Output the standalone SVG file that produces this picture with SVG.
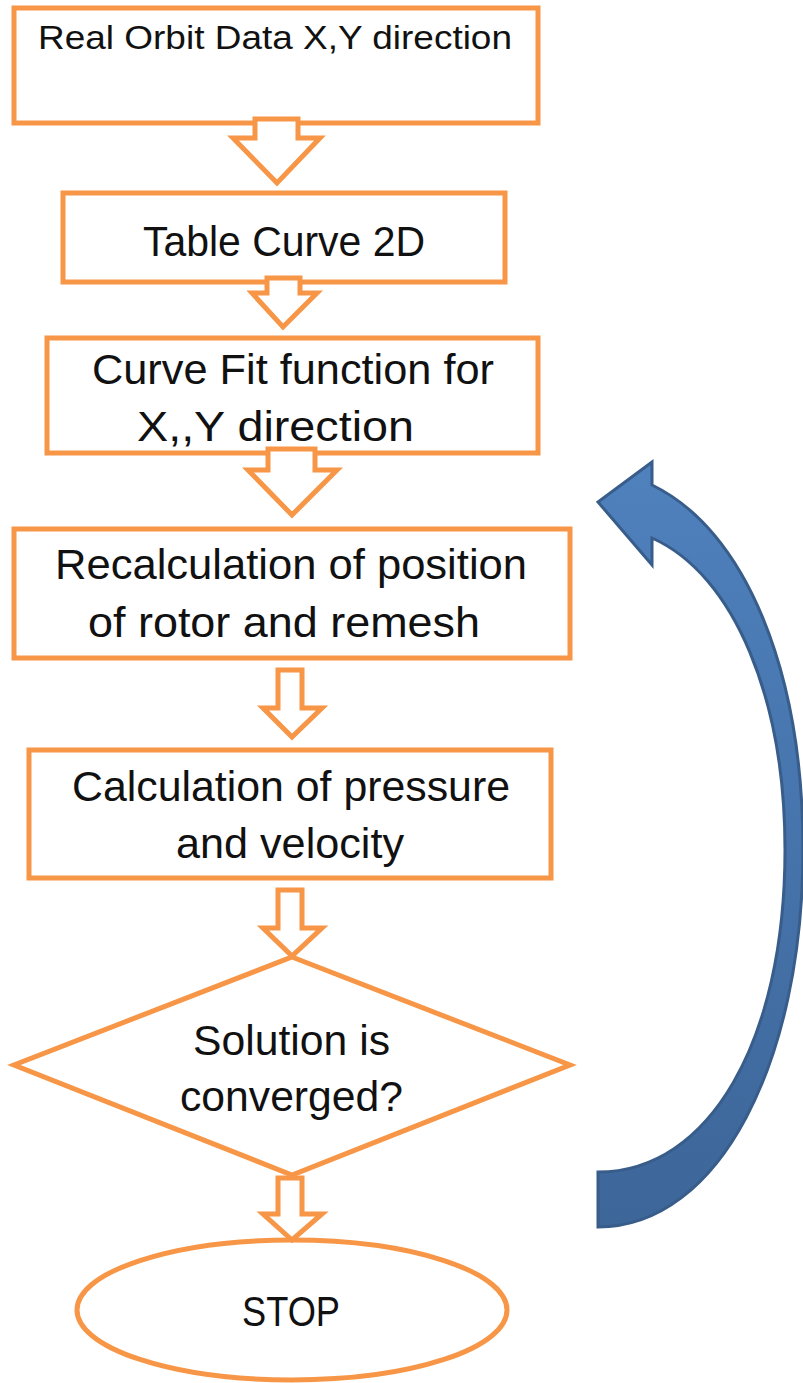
<svg xmlns="http://www.w3.org/2000/svg" width="803" height="1383" viewBox="0 0 803 1383">
<defs>
<linearGradient id="blueGrad" x1="0" y1="0" x2="0" y2="1">
<stop offset="0" stop-color="#4F81BD"/>
<stop offset="1" stop-color="#3D6699"/>
</linearGradient>
</defs>
<style>
.box{fill:#fff;stroke:#F79646;stroke-width:5}
.arr{fill:#fff;stroke:#F79646;stroke-width:5;stroke-linejoin:miter}
.t{font-family:"Liberation Sans",Arial,sans-serif;fill:#111;text-anchor:start}
</style>
<rect width="803" height="1383" fill="#fff"/>
<g id="n1">
<rect class="box" x="14" y="8" width="524" height="115"/>
<text class="t" x="38" y="49" font-size="34" textLength="474" lengthAdjust="spacingAndGlyphs">Real Orbit Data X,Y direction</text>
</g>
<g id="n2">
<rect class="box" x="63" y="193" width="442" height="89"/>
<text class="t" x="143" y="256" font-size="42" textLength="282" lengthAdjust="spacingAndGlyphs">Table Curve 2D</text>
</g>
<g id="n3">
<rect class="box" x="47" y="338" width="491" height="115"/>
<text class="t" x="92" y="384" font-size="42" textLength="402" lengthAdjust="spacingAndGlyphs">Curve Fit function for</text>
<text class="t" x="137" y="441" font-size="42" textLength="277" lengthAdjust="spacingAndGlyphs">X,,Y direction</text>
</g>
<g id="n4">
<rect class="box" x="14" y="529" width="556" height="129"/>
<text class="t" x="55" y="579" font-size="42" textLength="472" lengthAdjust="spacingAndGlyphs">Recalculation of position</text>
<text class="t" x="88" y="637" font-size="42" textLength="392" lengthAdjust="spacingAndGlyphs">of rotor and remesh</text>
</g>
<g id="n5">
<rect class="box" x="29" y="750" width="522" height="128"/>
<text class="t" x="72" y="801" font-size="42" textLength="438" lengthAdjust="spacingAndGlyphs">Calculation of pressure</text>
<text class="t" x="176" y="858" font-size="42" textLength="228" lengthAdjust="spacingAndGlyphs">and velocity</text>
</g>
<g id="n6">
<polygon class="box" points="292,957 570,1065 292,1175 14,1065"/>
<text class="t" x="193" y="1055" font-size="42" textLength="197" lengthAdjust="spacingAndGlyphs">Solution is</text>
<text class="t" x="180" y="1111" font-size="42" textLength="223" lengthAdjust="spacingAndGlyphs">converged?</text>
</g>
<g id="n7">
<ellipse class="box" cx="292" cy="1310" rx="215" ry="70"/>
<text class="t" x="242" y="1326" font-size="42" textLength="98" lengthAdjust="spacingAndGlyphs">STOP</text>
</g>
<g id="connectors">
<polygon class="arr" points="255,119 298,119 298,138 320,138 277,183 233,138 255,138"/>
<polygon class="arr" points="267,278 300,278 300,293 317,293 283,327 252,293 267,293"/>
<polygon class="arr" points="268,449 315,449 315,470 337,470 292,515 248,470 268,470"/>
<polygon class="arr" points="278,670 302,670 302,708 322,708 292,737 263,708 278,708"/>
<polygon class="arr" points="278,890 302,890 302,928 322,928 292,956 263,928 278,928"/>
<polygon class="arr" points="278,1178 302,1178 302,1214 322,1214 292,1240 263,1214 278,1214"/>
<path id="loop" d="M598,1227 C720,1227 803,1060 803,850 C803,670 745,530 652,485 L652,462 L598,502 L652,565 L652,538 C735,575 785,700 785,850 C785,1040 710,1172 598,1172 Z" fill="url(#blueGrad)" stroke="#385D8A" stroke-width="3" stroke-linejoin="miter"/>
</g>
</svg>
